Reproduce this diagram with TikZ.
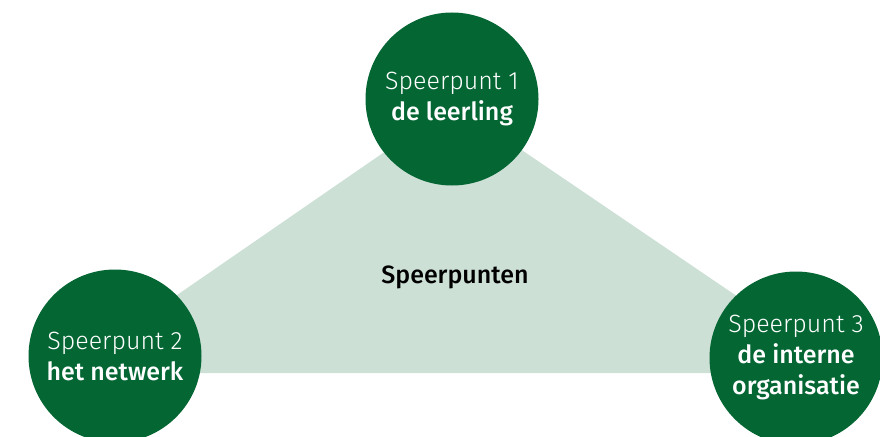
\documentclass[tikz,border=0pt]{standalone}
\usepackage{fontspec}
\setmainfont{Fira Sans}[UprightFont=* Light, BoldFont=* Medium]
\usepackage{xcolor}
\usepackage{tikz}

\definecolor{spgroen}{RGB}{3,102,51}
\definecolor{splicht}{RGB}{204,224,214}

\begin{document}
\begin{tikzpicture}[x=1pt,y=1pt,yscale=-1,xscale=1]
\tikzset{
  punt/.style={circle, fill=spgroen, minimum size=173pt, inner sep=0pt,
    text=white, align=center, font=\fontsize{25}{31}\selectfont},
  kern/.style={inner sep=0.75pt, text=black, font=\fontsize{25}{31}\selectfont\bfseries}
}
\useasboundingbox (0,0) rectangle (880,436);

%Shape: Triangle
\coordinate (hoekL) at (64,373);
\coordinate (hoekT) at (454,104);
\coordinate (hoekR) at (850,373);
\fill [splicht] (hoekL) -- (hoekT) -- (hoekR) -- cycle;

% Text Node
\node [kern] (speerpunten) at (455,277) {Speerpunten};

%Shape: Circle
\node [punt] (sp1) at (452,99) {Speerpunt 1\\\textbf{de leerling}};
%Shape: Circle
\node [punt] (sp2) at (115,356) {Speerpunt 2\\\textbf{het netwerk}};
%Shape: Circle
\node [punt] (sp3) at (796,358) {Speerpunt 3\\\textbf{de interne}\\\textbf{organisatie}};

\end{tikzpicture}
\end{document}
